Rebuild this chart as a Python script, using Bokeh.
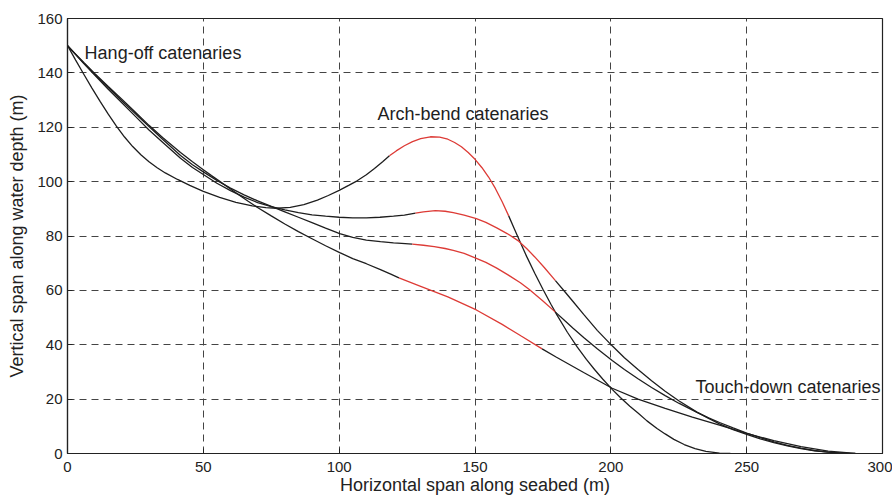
from bokeh.plotting import figure
from bokeh.models import Range1d, FixedTicker, Label
from bokeh.embed import file_html
from bokeh.resources import INLINE

# ---- data ----
x_ticks = [0, 50, 100, 150, 200, 250, 300]
y_ticks = [0, 20, 40, 60, 80, 100, 120, 140, 160]

# Curve A (largest arch)
a_hang_x = [0, 3, 6, 9, 12, 15, 18, 21, 24, 27, 30, 33, 36, 40.5, 45, 50, 56, 62, 68, 73, 77, 82, 87, 92, 96, 100, 103.5, 106.6, 110, 113, 116, 118.5]
a_hang_y = [150, 144.7, 139.5, 134.4, 129.5, 124.8, 120.4, 116.4, 112.9, 109.9, 107.3, 105.1, 103.2, 100.8, 98.6, 96.4, 94.2, 92.4, 91.1, 90.4, 90.2, 90.5, 91.5, 93.2, 94.9, 96.8, 98.6, 100.3, 102.5, 104.8, 107.3, 109.5]
a_arch_x = [118.5, 121, 124, 127, 130, 133.6, 137, 140, 142.5, 145, 147.5, 150, 152.5, 155, 157.5, 160, 162.4]
a_arch_y = [109.5, 111.3, 113.2, 114.7, 115.8, 116.5, 116.4, 115.6, 114.4, 112.8, 110.7, 108.2, 105.2, 101.7, 97.5, 92.6, 87.4]
a_touch_x = [162.4, 164.5, 166.7, 169, 172, 175, 178, 180.2, 184, 187.6, 191, 194, 197, 200.5, 203.5, 207, 210, 213.3, 217, 220, 223.2, 227, 231, 235, 240, 244]
a_touch_y = [87.4, 82.6, 77.6, 72.5, 66.3, 60.4, 54.8, 50.9, 44.6, 39.2, 34.6, 30.9, 27.4, 23.6, 20.6, 17.4, 14.9, 12.0, 9.2, 7.2, 5.2, 3.3, 1.8, 0.8, 0.15, 0]

# Curve B
b_hang_x = [0, 3, 6, 10, 15, 20, 25, 30, 35, 41.6, 46, 50, 55, 60, 65, 70, 75, 80, 85, 90, 95, 100, 105, 110, 115, 120, 124, 128.1]
b_hang_y = [150, 146.7, 143.4, 139.2, 134, 129, 124, 119, 114.5, 108.6, 105.2, 102.6, 99.4, 96.7, 94.3, 92.3, 90.8, 89.6, 88.6, 87.8, 87.3, 86.9, 86.7, 86.7, 86.9, 87.3, 87.7, 88.4]
b_arch_x = [128.1, 131, 135.4, 139, 142, 146, 150.5, 154, 158, 162, 166.1, 169, 172, 175.5, 179.6]
b_arch_y = [88.4, 88.9, 89.3, 89.1, 88.6, 87.7, 86.4, 85, 83, 80.8, 78.1, 75.4, 72.3, 68.4, 63.6]
b_touch_x = [179.6, 183, 186, 190, 195, 200.5, 205, 210, 215, 220, 225, 231.7, 236, 240, 245, 250, 255, 260, 265, 270, 275, 280, 285, 290]
b_touch_y = [63.6, 59.6, 56, 51.2, 45.3, 39.6, 35.2, 30.9, 26.8, 22.9, 19.4, 15.2, 12.9, 10.9, 8.8, 7.0, 5.4, 4.0, 2.8, 1.8, 1.0, 0.5, 0.15, 0]

# Curve C
c_hang_x = [0, 3, 6, 10, 15, 20, 25, 30, 35, 41.6, 46, 50, 55, 60, 65, 70, 75, 80, 85, 90, 95, 100.2, 105, 110, 115.2, 120, 123, 126.9]
c_hang_y = [150, 146.8, 143.6, 139.5, 134.6, 129.7, 125, 120.3, 115.6, 109.6, 106.2, 103.6, 100.4, 97.6, 95.1, 92.9, 90.9, 88.9, 86.9, 84.9, 82.9, 80.9, 79.5, 78.5, 77.9, 77.5, 77.3, 77.0]
c_arch_x = [126.9, 131, 135, 139, 142, 146, 150.5, 154, 158, 162, 166.7, 170, 175, 179.6]
c_arch_y = [77.0, 76.6, 76.1, 75.4, 74.7, 73.6, 71.8, 70.3, 68.2, 65.8, 62.8, 60.3, 56.1, 52.0]
c_touch_x = [179.6, 183, 186, 190, 195, 200.5, 205, 210, 215, 220, 225, 231.7, 236, 240, 245, 250, 255, 260, 265, 270, 275, 280, 284, 288]
c_touch_y = [52.0, 48.9, 46.2, 42.7, 38.5, 34.2, 30.9, 27.5, 24.3, 21.3, 18.5, 15.1, 13.1, 11.4, 9.4, 7.5, 5.8, 4.3, 3.0, 1.95, 1.1, 0.5, 0.2, 0]

# Curve D (smallest arch)
d_hang_x = [0, 3, 6, 10, 15, 20, 25, 30, 35, 41.6, 46, 50, 53, 56.3, 60, 63, 66.5, 69.8, 75, 80, 85, 90, 95, 100.2, 105, 110, 115.2, 119, 122]
d_hang_y = [150, 146.9, 143.8, 139.8, 135, 130.3, 125.5, 120.7, 116.2, 110.7, 107.3, 104.4, 102.2, 99.9, 97.3, 95.2, 92.8, 90.6, 87.4, 84.4, 81.6, 79, 76.4, 73.9, 71.7, 69.8, 67.6, 66, 64.6]
d_arch_x = [122, 130, 140, 150.5, 160, 167, 174.7]
d_arch_y = [64.6, 61.5, 57.6, 52.8, 47.5, 43.2, 38.5]
d_touch_x = [174.7, 180, 190, 200.5, 210, 220, 230, 240, 250, 260, 270, 280, 290]
d_touch_y = [38.5, 35.4, 29.8, 24, 20, 16.6, 13.4, 10.4, 7.4, 4.7, 2.5, 0.9, 0]

labels = ["Hang-off catenaries", "Arch-bend catenaries", "Touch-down catenaries"]

BLACK = "#1e1e1e"
RED = "#dd3b36"
FONT = "Liberation Sans"

p = figure(width=892, height=497, output_backend="svg", toolbar_location=None,
           x_range=Range1d(0, 300), y_range=Range1d(0, 160),
           min_border_left=67, min_border_right=10, min_border_top=18, min_border_bottom=41)

p.background_fill_color = "white"
p.border_fill_color = "white"
p.outline_line_color = "#222222"
p.outline_line_width = 1.2

for ax in (p.xaxis[0], p.yaxis[0]):
    ax.axis_line_color = "#222222"
    ax.axis_line_width = 1.2
    ax.major_tick_in = 5
    ax.major_tick_out = 0
    ax.minor_tick_line_color = None
    ax.major_tick_line_color = "#222222"
    ax.major_label_text_font = FONT
    ax.major_label_text_font_size = "15px"
    ax.major_label_text_color = "#222222"
    ax.axis_label_text_font = FONT
    ax.axis_label_text_font_size = "18px"
    ax.axis_label_text_font_style = "normal"
    ax.axis_label_text_color = "#222222"

p.xaxis.ticker = FixedTicker(ticks=x_ticks)
p.yaxis.ticker = FixedTicker(ticks=y_ticks)
p.xaxis.axis_label = "Horizontal span along seabed (m)"
p.yaxis.axis_label = "Vertical span along water depth (m)"
p.xaxis.major_label_standoff = 8
p.yaxis.major_label_standoff = 5
p.xaxis.axis_label_standoff = 0
p.yaxis.axis_label_standoff = 7

for g in (p.xgrid[0], p.ygrid[0]):
    g.grid_line_color = "#444444"
    g.grid_line_dash = "7 5"
    g.grid_line_width = 1

segments = [
    (a_hang_x, a_hang_y, BLACK), (a_arch_x, a_arch_y, RED), (a_touch_x, a_touch_y, BLACK),
    (b_hang_x, b_hang_y, BLACK), (b_arch_x, b_arch_y, RED), (b_touch_x, b_touch_y, BLACK),
    (c_hang_x, c_hang_y, BLACK), (c_arch_x, c_arch_y, RED), (c_touch_x, c_touch_y, BLACK),
    (d_hang_x, d_hang_y, BLACK), (d_arch_x, d_arch_y, RED), (d_touch_x, d_touch_y, BLACK),
]
for xs, ys, col in segments:
    p.line(xs, ys, line_color=col, line_width=1.3)

p.add_layout(Label(x=6.3, y=147.2, text=labels[0], text_font=FONT, text_font_size="18px",
                   text_color="#1e1e1e", text_baseline="middle", text_align="left"))
p.add_layout(Label(x=114.1, y=124.8, text=labels[1], text_font=FONT, text_font_size="18px",
                   text_color="#1e1e1e", text_baseline="middle", text_align="left"))
p.add_layout(Label(x=299.3, y=24.6, text=labels[2], text_font=FONT, text_font_size="18px",
                   text_color="#1e1e1e", text_baseline="middle", text_align="right"))

open("out.html", "w").write(file_html(p, INLINE))
